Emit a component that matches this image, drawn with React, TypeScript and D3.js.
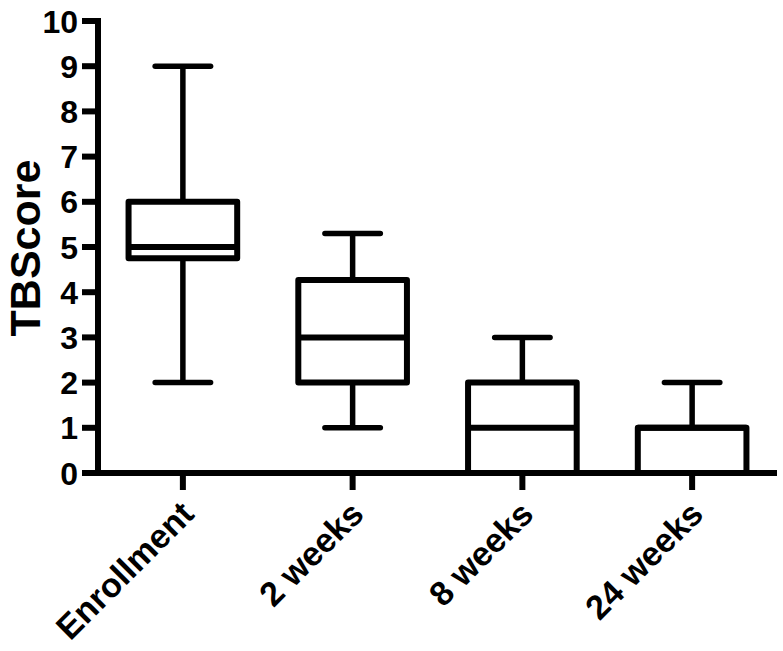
import React from "react";
import * as d3 from "d3";

const categories = ["Enrollment", "2 weeks", "8 weeks", "24 weeks"];
const whiskerLow = [2, 1, 0, 0];
const q1 = [4.75, 2, 0, 0];
const median = [5, 3, 1, 1];
const q3 = [6, 4.27, 2, 1];
const whiskerHigh = [9, 5.3, 3, 2];
const yTicks = [0, 1, 2, 3, 4, 5, 6, 7, 8, 9, 10];
const yLabel = "TBScore";

const W = 783;
const H = 651;

export default function App() {
  const y = d3.scaleLinear().domain([0, 10]).range([473, 21]);
  const x = d3.scaleBand<string>().domain(categories).range([98, 777]).paddingInner(0).paddingOuter(0);
  const bw = x.bandwidth();
  const boxW = bw * 0.64;
  const capW = boxW * 0.51;
  const font = "'Liberation Sans', Arial, Helvetica, sans-serif";
  const axisX = 98;
  const axisY = y(0);

  return (
    <svg width={W} height={H} style={{ position: "absolute", left: 0, top: 0, background: "#fff" }} fontFamily={font}>
      <rect x={0} y={0} width={W} height={H} fill="#fff" />
      {categories.map((c, i) => {
        const cx = (x(c) as number) + bw / 2;
        return (
          <g key={c} stroke="#000" fill="none" strokeWidth={5.5}>
            <line x1={cx} x2={cx} y1={y(whiskerHigh[i])} y2={y(q3[i])} />
            <line x1={cx} x2={cx} y1={y(q1[i])} y2={y(whiskerLow[i])} />
            <line x1={cx - capW / 2} x2={cx + capW / 2} y1={y(whiskerHigh[i])} y2={y(whiskerHigh[i])} strokeLinecap="round" />
            <line x1={cx - capW / 2} x2={cx + capW / 2} y1={y(whiskerLow[i])} y2={y(whiskerLow[i])} strokeLinecap="round" />
            <rect x={cx - boxW / 2} y={y(q3[i])} width={boxW} height={y(q1[i]) - y(q3[i])} strokeWidth={6} strokeLinejoin="round" fill="#fff" />
            <line x1={cx - boxW / 2} x2={cx + boxW / 2} y1={y(median[i])} y2={y(median[i])} strokeWidth={6} />
          </g>
        );
      })}
      <g stroke="#000" strokeWidth={6}>
        <line x1={axisX} x2={axisX} y1={y(10) - 3} y2={axisY + 3} />
        {yTicks.map((t) => (
          <line key={t} x1={axisX - 16} x2={axisX} y1={y(t)} y2={y(t)} />
        ))}
        <line x1={axisX - 3} x2={777} y1={axisY} y2={axisY} />
        {categories.map((c) => {
          const cx = (x(c) as number) + bw / 2;
          return <line key={c} x1={cx} x2={cx} y1={axisY} y2={axisY + 17} />;
        })}
      </g>
      {yTicks.map((t) => (
        <text key={t} x={axisX - 20} y={y(t)} dy="0.36em" textAnchor="end" fontSize={32} fontWeight="bold" fill="#000">
          {t}
        </text>
      ))}
      {categories.map((c) => {
        const cx = (x(c) as number) + bw / 2;
        const ax = cx + 13;
        const ay = 516;
        return (
          <text key={c} x={ax} y={ay} transform={`rotate(-45 ${ax} ${ay})`} textAnchor="end" fontSize={34} fontWeight="bold" fill="#000">
            {c}
          </text>
        );
      })}
      <text x={40} y={248} transform="rotate(-90 40 248)" textAnchor="middle" fontSize={43} fontWeight="bold" fill="#000">
        {yLabel}
      </text>
    </svg>
  );
}
